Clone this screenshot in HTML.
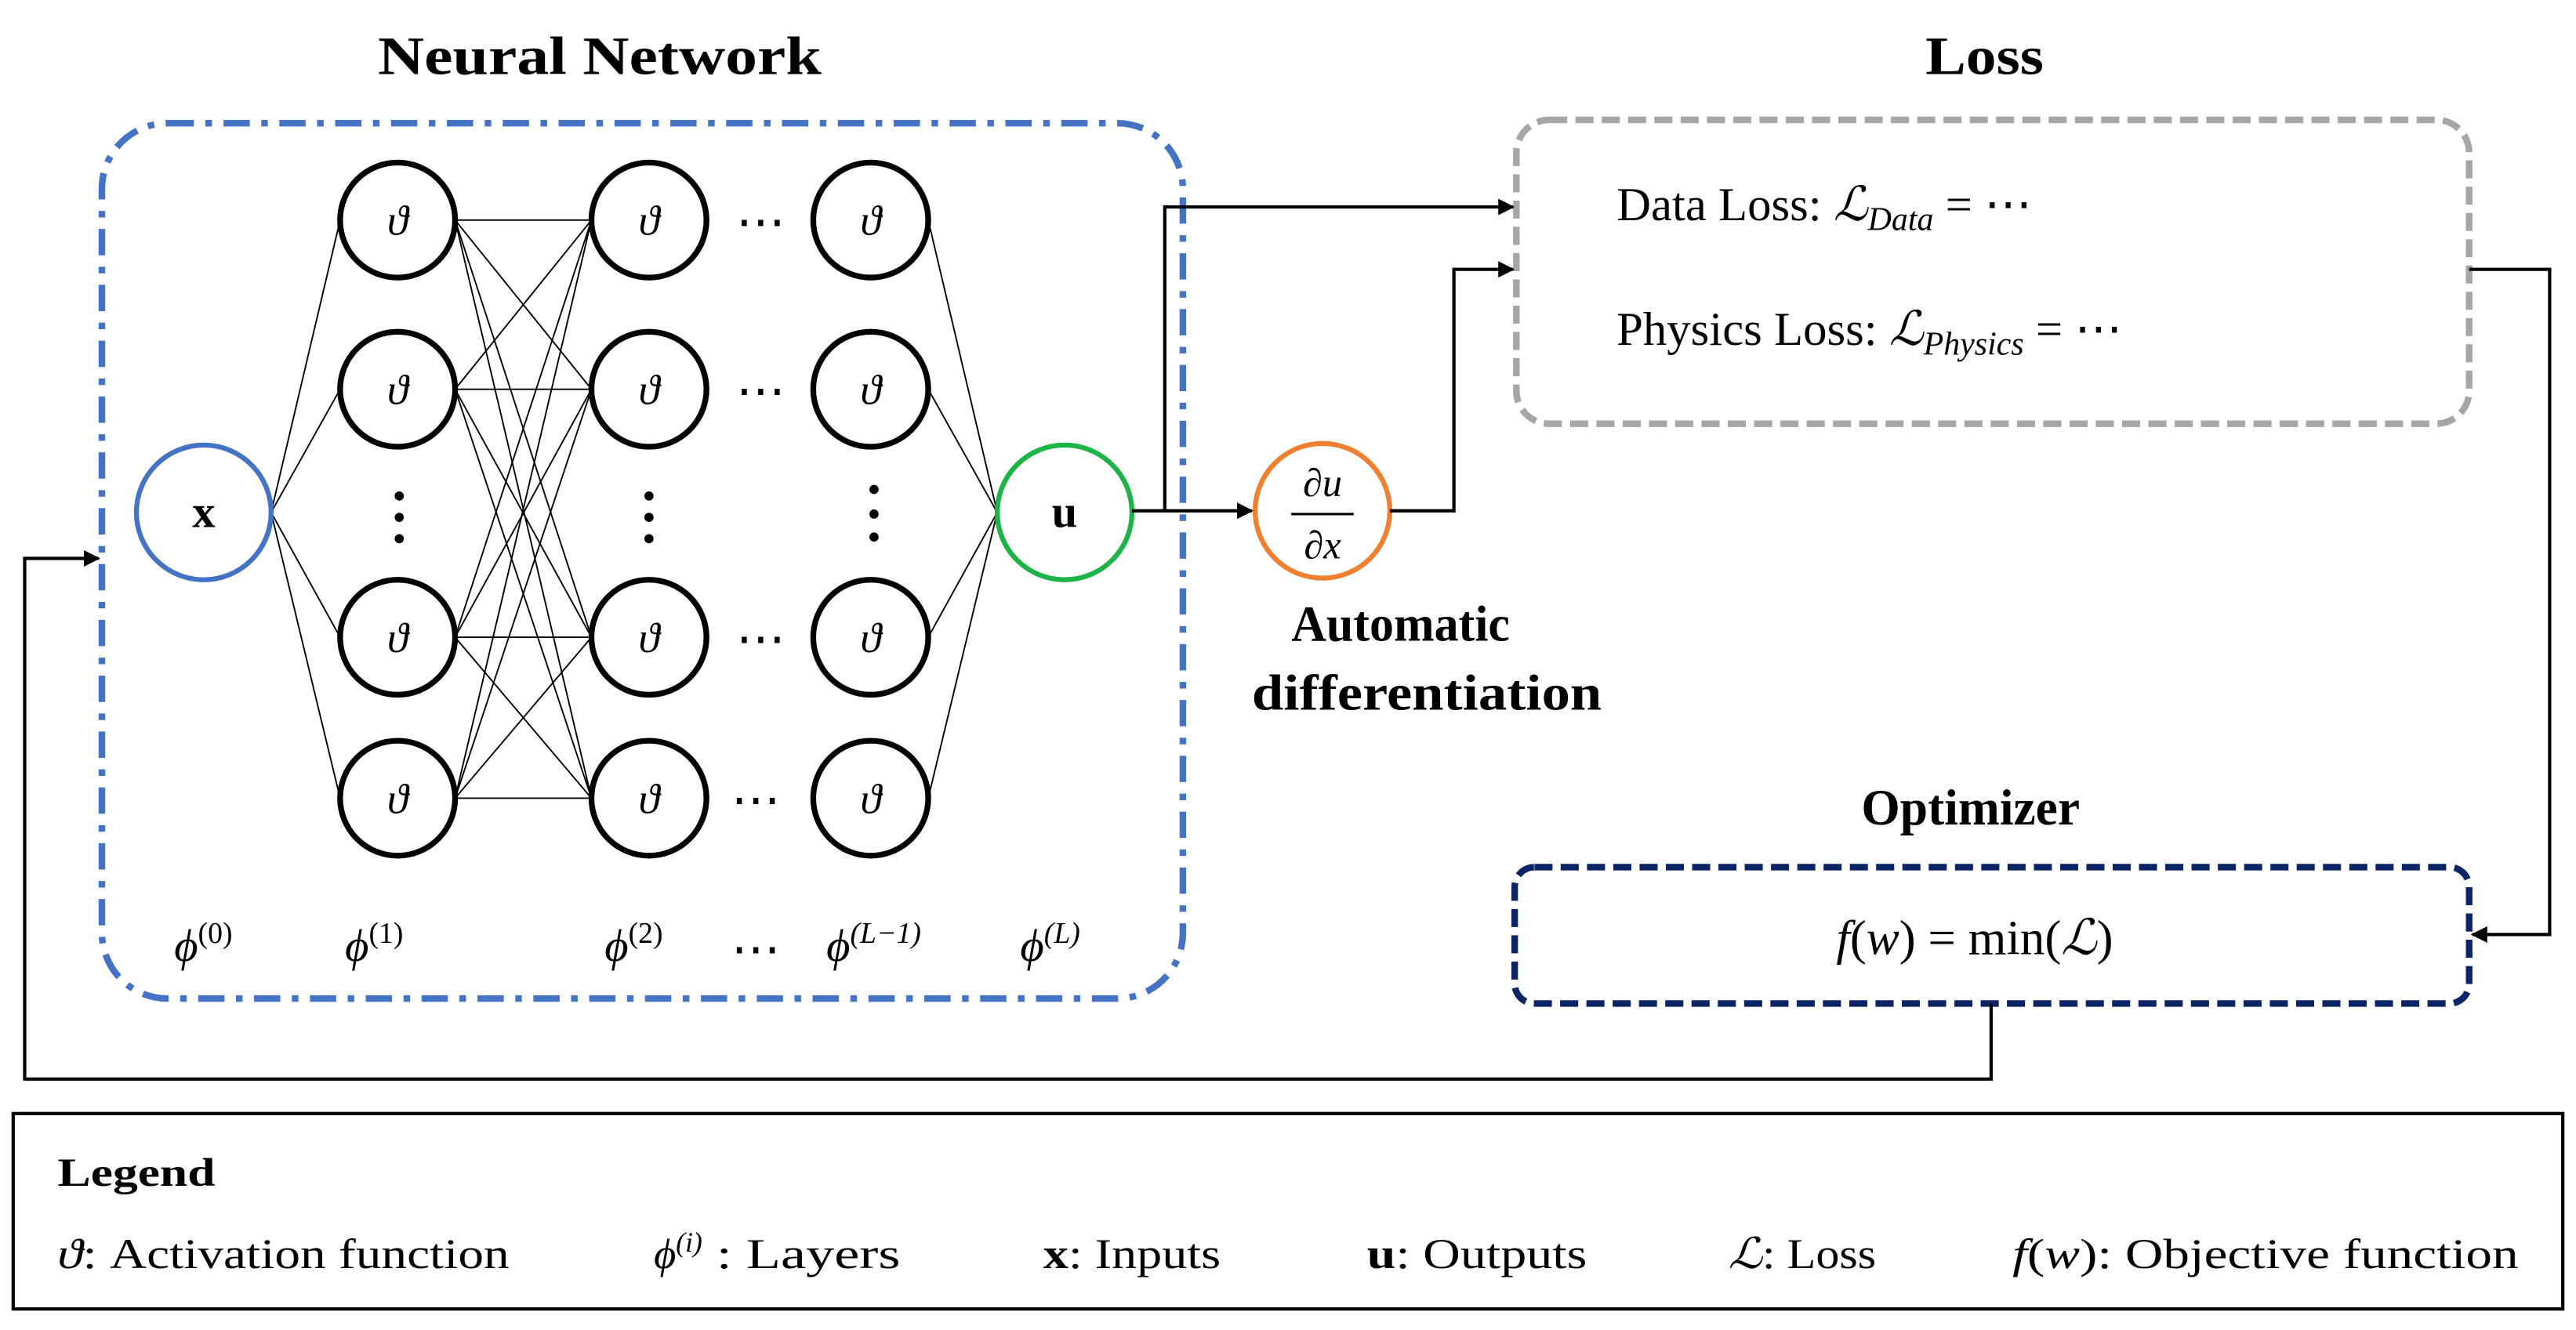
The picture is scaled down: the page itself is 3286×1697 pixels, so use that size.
<!DOCTYPE html>
<html><head><meta charset="utf-8"><style>
html,body{margin:0;padding:0;background:#fff;}
svg{display:block;}
text{font-family:"Liberation Serif","DejaVu Serif",serif;fill:#000;}
.b{font-weight:bold;}
.i{font-style:italic;}
</style></head><body>
<svg width="3286" height="1697" viewBox="0 0 1568 809.8" xmlns="http://www.w3.org/2000/svg">
<defs>
<marker id="ar" markerWidth="10" markerHeight="10" refX="9" refY="5" orient="auto" markerUnits="userSpaceOnUse">
<path d="M0,0 L10,5 L0,10 z" fill="#000"/></marker>
</defs>
<text x="230" y="45" font-size="33" class="b" textLength="270" lengthAdjust="spacingAndGlyphs">Neural Network</text>
<text x="1172" y="45" font-size="33" class="b" textLength="72" lengthAdjust="spacingAndGlyphs">Loss</text>
<text x="1133" y="502" font-size="31" class="b" textLength="133" lengthAdjust="spacingAndGlyphs">Optimizer</text>
<rect x="62" y="75" width="658" height="533" rx="40" fill="none" stroke="#4472C4" stroke-width="4" stroke-dasharray="16,7,4,7"/>
<rect x="923" y="73" width="580" height="185" rx="20" fill="none" stroke="#A6A6A6" stroke-width="4" stroke-dasharray="11,5"/>
<rect x="922" y="528" width="581" height="83" rx="12" fill="none" stroke="#0B2466" stroke-width="4" stroke-dasharray="11,5"/>
<g stroke="#000" stroke-width="0.9">
<line x1="165" y1="312" x2="207" y2="134"/><line x1="165" y1="312" x2="207" y2="237"/><line x1="165" y1="312" x2="207" y2="388"/><line x1="165" y1="312" x2="207" y2="486"/>
<line x1="277" y1="134" x2="360" y2="134"/><line x1="277" y1="134" x2="360" y2="237"/><line x1="277" y1="134" x2="360" y2="388"/><line x1="277" y1="134" x2="360" y2="486"/>
<line x1="277" y1="237" x2="360" y2="134"/><line x1="277" y1="237" x2="360" y2="237"/><line x1="277" y1="237" x2="360" y2="388"/><line x1="277" y1="237" x2="360" y2="486"/>
<line x1="277" y1="388" x2="360" y2="134"/><line x1="277" y1="388" x2="360" y2="237"/><line x1="277" y1="388" x2="360" y2="388"/><line x1="277" y1="388" x2="360" y2="486"/>
<line x1="277" y1="486" x2="360" y2="134"/><line x1="277" y1="486" x2="360" y2="237"/><line x1="277" y1="486" x2="360" y2="388"/><line x1="277" y1="486" x2="360" y2="486"/>
<line x1="607" y1="312" x2="565" y2="134"/><line x1="607" y1="312" x2="565" y2="237"/><line x1="607" y1="312" x2="565" y2="388"/><line x1="607" y1="312" x2="565" y2="486"/>
</g>
<g fill="#fff" stroke="#000" stroke-width="3.5">
<circle cx="242" cy="134" r="35"/><circle cx="242" cy="237" r="35"/><circle cx="242" cy="388" r="35"/><circle cx="242" cy="486" r="35"/>
<circle cx="395" cy="134" r="35"/><circle cx="395" cy="237" r="35"/><circle cx="395" cy="388" r="35"/><circle cx="395" cy="486" r="35"/>
<circle cx="530" cy="134" r="35"/><circle cx="530" cy="237" r="35"/><circle cx="530" cy="388" r="35"/><circle cx="530" cy="486" r="35"/>
</g>
<circle cx="124" cy="312" r="41" fill="#fff" stroke="#4472C4" stroke-width="3"/>
<circle cx="648" cy="312" r="41" fill="#fff" stroke="#1DB446" stroke-width="3"/>
<circle cx="805" cy="311" r="41" fill="#fff" stroke="#F08030" stroke-width="3"/>
<g font-size="26" class="i" text-anchor="middle">
<text x="242" y="143">ϑ</text><text x="242" y="246">ϑ</text><text x="242" y="397">ϑ</text><text x="242" y="495">ϑ</text>
<text x="395" y="143">ϑ</text><text x="395" y="246">ϑ</text><text x="395" y="397">ϑ</text><text x="395" y="495">ϑ</text>
<text x="530" y="143">ϑ</text><text x="530" y="246">ϑ</text><text x="530" y="397">ϑ</text><text x="530" y="495">ϑ</text>
</g>
<text x="124" y="321" font-size="28" class="b" text-anchor="middle">x</text>
<text x="648" y="321" font-size="28" class="b" text-anchor="middle">u</text>
<text x="805" y="302" font-size="24" class="i" text-anchor="middle">∂u</text>
<line x1="786" y1="313" x2="824" y2="313" stroke="#000" stroke-width="1.5"/>
<text x="805" y="340" font-size="24" class="i" text-anchor="middle">∂x</text>
<g fill="#000">
<circle cx="243" cy="302" r="2.8"/><circle cx="243" cy="315" r="2.8"/><circle cx="243" cy="328" r="2.8"/>
<circle cx="395" cy="302" r="2.8"/><circle cx="395" cy="315" r="2.8"/><circle cx="395" cy="328" r="2.8"/>
<circle cx="532" cy="298" r="2.8"/><circle cx="532" cy="313" r="2.8"/><circle cx="532" cy="327" r="2.8"/>
</g>
<g font-size="30" text-anchor="middle">
<text x="463" y="145">⋯</text><text x="463" y="248">⋯</text><text x="463" y="399">⋯</text><text x="460" y="497">⋯</text>
<text x="460" y="588">⋯</text>
</g>
<g font-size="28" class="i">
<text x="106" y="585">ϕ<tspan font-size="18" dy="-11" font-style="normal">(0)</tspan></text>
<text x="210" y="585">ϕ<tspan font-size="18" dy="-11" font-style="normal">(1)</tspan></text>
<text x="368" y="585">ϕ<tspan font-size="18" dy="-11" font-style="normal">(2)</tspan></text>
<text x="503" y="585">ϕ<tspan font-size="18" dy="-11">(L−1)</tspan></text>
<text x="621" y="585">ϕ<tspan font-size="18" dy="-11">(L)</tspan></text>
</g>
<g stroke="#000" stroke-width="2" fill="none">
<line x1="689" y1="311" x2="762" y2="311" marker-end="url(#ar)"/>
<polyline points="709,311 709,126 921,126" marker-end="url(#ar)"/>
<polyline points="846,311 885,311 885,164 921,164" marker-end="url(#ar)"/>
<polyline points="1503,164 1552,164 1552,569 1505,569" marker-end="url(#ar)"/>
<polyline points="1212,611 1212,657 15,657 15,340 60,340" marker-end="url(#ar)"/>
</g>
<text x="786" y="390" font-size="31" class="b" textLength="133" lengthAdjust="spacingAndGlyphs">Automatic</text>
<text x="762" y="432" font-size="31" class="b" textLength="213" lengthAdjust="spacingAndGlyphs">differentiation</text>
<text x="984" y="134" font-size="29">Data Loss: <tspan class="i">ℒ</tspan><tspan class="i" font-size="20" dy="6">Data</tspan><tspan dy="-6"> = ⋯</tspan></text>
<text x="984" y="210" font-size="29">Physics Loss: <tspan class="i">ℒ</tspan><tspan class="i" font-size="20" dy="6">Physics</tspan><tspan dy="-6"> = ⋯</tspan></text>
<text x="1202" y="581" font-size="30" text-anchor="middle"><tspan class="i">f</tspan>(<tspan class="i">w</tspan>) = min(<tspan class="i">ℒ</tspan>)</text>
<rect x="8" y="678" width="1552" height="119" fill="none" stroke="#000" stroke-width="2"/>
<text x="35" y="722" font-size="24" class="b" textLength="96" lengthAdjust="spacingAndGlyphs">Legend</text>
<g font-size="26">
<text x="35" y="772" textLength="275" lengthAdjust="spacingAndGlyphs"><tspan class="i">ϑ</tspan>: Activation function</text>
<text x="398" y="772"><tspan class="i">ϕ</tspan><tspan font-size="17" dy="-10" class="i">(i)</tspan></text>
<text x="436" y="772" textLength="112" lengthAdjust="spacingAndGlyphs">: Layers</text>
<text x="635" y="772" textLength="108" lengthAdjust="spacingAndGlyphs"><tspan class="b">x</tspan>: Inputs</text>
<text x="832" y="772" textLength="134" lengthAdjust="spacingAndGlyphs"><tspan class="b">u</tspan>: Outputs</text>
<text x="1052" y="772" textLength="90" lengthAdjust="spacingAndGlyphs"><tspan class="i">ℒ</tspan>: Loss</text>
<text x="1225" y="772" textLength="308" lengthAdjust="spacingAndGlyphs"><tspan class="i">f</tspan>(<tspan class="i">w</tspan>): Objective function</text>
</g>
</svg>
</body></html>
